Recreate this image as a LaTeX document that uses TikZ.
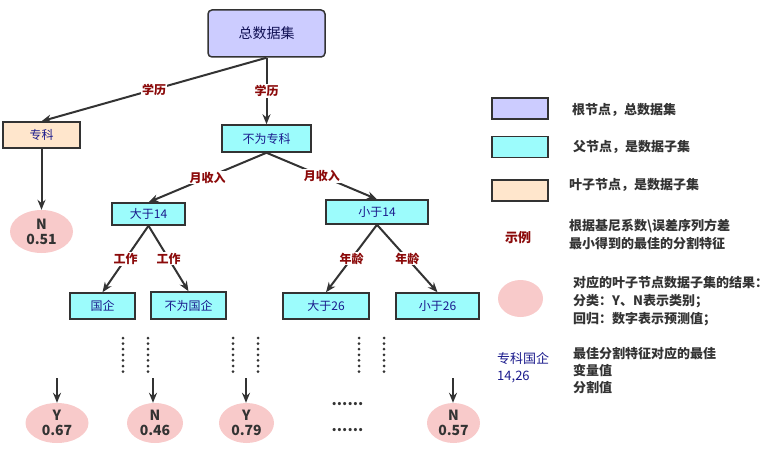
\documentclass[tikz,border=0pt]{standalone}
\usepackage{fontspec}
\setmainfont{Noto Sans CJK SC}
\usetikzlibrary{positioning, arrows.meta, shapes.geometric}
\definecolor{cRoot}{HTML}{CCCCFF}
\definecolor{cSub}{HTML}{9CFCFC}
\definecolor{cLeaf}{HTML}{FFE6CC}
\definecolor{cVal}{HTML}{F8CACA}
\definecolor{cLine}{HTML}{333333}
\definecolor{cLbl}{HTML}{8B0A0A}
\definecolor{cText}{HTML}{1A1A8C}
\tikzset{
  rootbox/.style={
    rectangle, rounded corners=4pt, draw=cLine, line width=1.5pt, fill=cRoot,
    text=cText!60!black, font=\fontsize{14}{16}\selectfont, inner sep=0pt
  },
  subbox/.style={
    rectangle, draw=cLine, line width=1.5pt, fill=cSub, text=cText,
    font=\fontsize{12}{14}\selectfont, inner sep=0pt, minimum height=26pt
  },
  leafbox/.style={subbox, fill=cLeaf},
  leafval/.style={
    ellipse, fill=cVal, text=cLine, align=center, inner sep=0pt,
    font=\fontsize{14}{15}\selectfont\bfseries, minimum width=56pt, minimum height=40pt
  },
  edgelbl/.style={
    fill=white, text=cLbl, font=\fontsize{12}{14}\selectfont\bfseries, inner sep=1pt
  },
  arrow/.style={-{Stealth[length=10pt, width=8pt]}, line width=2pt, draw=cLine},
  dotline/.style={line width=3pt, draw=cLine, line cap=round, dash pattern=on 0pt off 5.6pt},
  legendbox/.style={rectangle, draw=cLine, line width=1.5pt, minimum width=56pt, minimum height=21pt, inner sep=0pt},
  legendtxt/.style={
    anchor=west, align=left, text=cLine, font=\fontsize{13}{18}\selectfont\bfseries, inner sep=0pt
  },
}

\begin{document}
\begin{tikzpicture}[x=1pt, y=-1pt]
  \useasboundingbox (0,0) rectangle (783,449);

  % tree
  \node[rootbox, minimum width=117pt, minimum height=47pt] (root) at (266.5,33.5) {总数据集};
  \node[leafbox, minimum width=77pt] (zk) at (41.5,135) {专科};
  \node[subbox, minimum width=89pt, minimum height=27pt] (bwzk) at (266.5,138.5) {不为专科};
  \node[subbox, minimum width=73pt, minimum height=22pt] (dy14) at (148.5,214) {大于14};
  \node[subbox, minimum width=102pt, minimum height=24pt] (xy14) at (377,212) {小于14};
  \node[subbox, minimum width=65pt] (gq) at (102.5,306) {国企};
  \node[subbox, minimum width=75pt, minimum height=27pt] (bwgq) at (188.5,305.5) {不为国企};
  \node[subbox, minimum width=86pt] (dy26) at (326,306) {大于26};
  \node[subbox, minimum width=83pt] (xy26) at (437.5,306) {小于26};

  \node[leafval, minimum width=63pt, minimum height=43pt] (v051) at (41.5,231.5) {N\\0.51};
  \node[leafval, minimum width=63pt] (v067) at (57,423) {Y\\0.67};
  \node[leafval] (v046) at (155,423) {N\\0.46};
  \node[leafval, minimum width=55pt] (v079) at (246.5,423) {Y\\0.79};
  \node[leafval, minimum width=53pt] (v057) at (453.5,423) {N\\0.57};

  \draw[arrow] (root.south) -- node[edgelbl] {学历} (zk.north);
  \draw[arrow] (root.south) -- node[edgelbl] {学历} (bwzk.north);
  \draw[arrow] (bwzk.south) -- node[edgelbl] {月收入} (dy14.north);
  \draw[arrow] (bwzk.south) -- node[edgelbl] {月收入} (xy14.north);
  \draw[arrow] (dy14.south) -- node[edgelbl] {工作} (gq.north);
  \draw[arrow] (dy14.south) -- node[edgelbl] {工作} (bwgq.north);
  \draw[arrow] (xy14.south) -- node[edgelbl] {年龄} (dy26.north);
  \draw[arrow] (xy14.south) -- node[edgelbl] {年龄} (xy26.north);
  \draw[arrow] (zk.south) -- (v051.north);

  % elided levels
  \foreach \x in {123,148,233,258,359,384}
    \draw[dotline] (\x,338) -- (\x,374);
  \foreach \v/\x in {v067/57, v046/153, v079/246, v057/453}{
    \coordinate (\v-in) at (\x,378);
    \draw[arrow] (\v-in) -- (\x,0 |- \v.north);
  }
  \node[text=cLine, font=\fontsize{15}{15}\selectfont\bfseries] (more1) at (347.5,404) {......};
  \node[text=cLine, font=\fontsize{15}{15}\selectfont\bfseries] (more2) at (347.5,430) {......};

  % legend
  \node[legendbox, fill=cRoot] (lgroot) at (520,108.5) {};
  \node[legendbox, fill=cSub, below=16pt of lgroot] (lgsub) {};
  \node[legendbox, fill=cLeaf, below=21pt of lgsub] (lgleaf) {};
  \node[legendtxt] (txroot) at (572,110) {根节点，总数据集};
  \node[legendtxt] (txsub) at (573,147) {父节点，是数据子集};
  \node[legendtxt] (txleaf) at (569,185) {叶子节点，是数据子集};

  \node[text=cLbl, font=\fontsize{13}{15}\selectfont\bfseries] (lglbl) at (518,238) {示例};
  \node[legendtxt] (txlbl) at (569,234) {根据基尼系数\textbackslash 误差序列方差\\最小得到的最佳的分割特征};

  \node[ellipse, fill=cVal, minimum width=45pt, minimum height=37pt] (lgval) at (520.5,298.5) {};
  \node[legendtxt] (txval) at (573,301) {对应的叶子节点数据子集的结果：\\分类：Y、N表示类别；\\回归：数字表示预测值；};

  \node[anchor=west, align=left, text=cText, font=\fontsize{13}{17}\selectfont, inner sep=0pt] (lgcut) at (497,368) {专科国企\\14,26};
  \node[legendtxt, font=\fontsize{13}{17}\selectfont\bfseries] (txcut) at (573,370) {最佳分割特征对应的最佳\\变量值\\分割值};

\end{tikzpicture}
\end{document}
